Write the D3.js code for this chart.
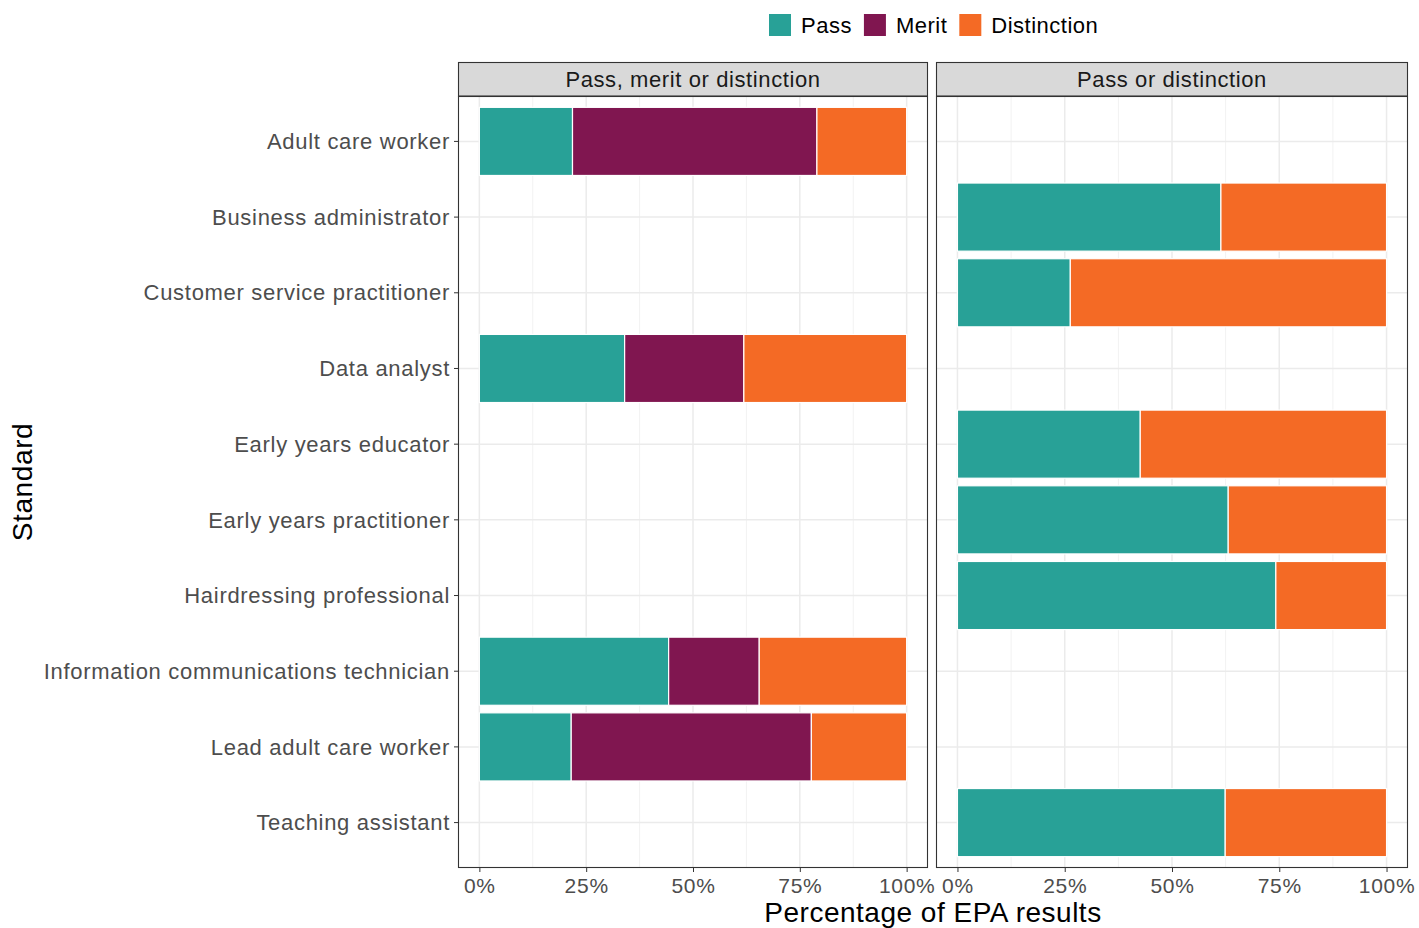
<!DOCTYPE html>
<html><head><meta charset="utf-8">
<script src="https://cdn.jsdelivr.net/npm/d3@7"></script>
<style>body{margin:0;background:#fff;} svg{display:block;font-family:"Liberation Sans",Arial,sans-serif;}</style>
</head><body>
<svg id="c" width="1419" height="928"></svg>
<script>
const categories = ["Adult care worker","Business administrator","Customer service practitioner","Data analyst","Early years educator","Early years practitioner","Hairdressing professional","Information communications technician","Lead adult care worker","Teaching assistant"];
const panels = ["Pass, merit or distinction","Pass or distinction"];
const grades = ["Pass","Merit","Distinction"];
const colors = ["#28A197","#801650","#F46A25"];
// each row: standard, panel, pass, merit, distinction (percent)
const rowStandard = ["Adult care worker","Data analyst","Information communications technician","Lead adult care worker","Business administrator","Customer service practitioner","Early years educator","Early years practitioner","Hairdressing professional","Teaching assistant"];
const rowPanel = [0,0,0,0,1,1,1,1,1,1];
const passVals = [21.8,34.0,44.3,21.5,61.4,26.3,42.6,63.1,74.2,62.4];
const meritVals = [57.2,27.9,21.2,56.2,0,0,0,0,0,0];
const distVals = [21.0,38.1,34.5,22.3,38.6,73.7,57.4,36.9,25.8,37.6];
const xTicks = [0,25,50,75,100];

(function(){
const svg = d3.select("#c");
const yTop = 96, yBot = 868;
const panelX = [[458,928],[936,1408]];
// ggplot-like discrete expansion: 0.6 units each side, bar width 0.9
const y = d3.scalePoint().domain(categories).range([yTop,yBot]).padding(0.6);
const step = y.step();
const yc = c => y(c);
const barH = step*0.9;

panels.forEach((p,i)=>{
  const [x0,x1] = panelX[i];
  const pad = (x1-x0)/1.1*0.05;
  const x = d3.scaleLinear().domain([0,100]).range([x0+pad,x1-pad]);
  const g = svg.append("g");
  g.append("rect").attr("x",x0).attr("y",yTop).attr("width",x1-x0).attr("height",yBot-yTop).attr("fill","#fff");
  [12.5,37.5,62.5,87.5].forEach(v=>g.append("line").attr("x1",x(v)).attr("x2",x(v)).attr("y1",yTop).attr("y2",yBot).attr("stroke","#F2F2F2").attr("stroke-width",1));
  xTicks.forEach(v=>g.append("line").attr("x1",x(v)).attr("x2",x(v)).attr("y1",yTop).attr("y2",yBot).attr("stroke","#EBEBEB").attr("stroke-width",1.5));
  categories.forEach(c=>g.append("line").attr("x1",x0).attr("x2",x1).attr("y1",yc(c)).attr("y2",yc(c)).attr("stroke","#EBEBEB").attr("stroke-width",1.5));
  rowStandard.forEach((s,r)=>{
    if(rowPanel[r]!==i) return;
    const vals = [passVals[r],meritVals[r],distVals[r]];
    let cum = 0;
    vals.forEach((v,k)=>{
      if(v<=0) return;
      g.append("rect").attr("x",x(cum)).attr("width",x(cum+v)-x(cum))
        .attr("y",yc(s)-barH/2).attr("height",barH)
        .attr("fill",colors[k]).attr("stroke","#fff").attr("stroke-width",1.2);
      cum += v;
    });
  });
  g.append("rect").attr("x",x0+0.5).attr("y",yTop+0.5).attr("width",x1-x0-1).attr("height",yBot-yTop-1).attr("fill","none").attr("stroke","#333").attr("stroke-width",1.1);
  g.append("rect").attr("x",x0+0.5).attr("y",62.5).attr("width",x1-x0-1).attr("height",yTop-62-0.5).attr("fill","#D9D9D9").attr("stroke","#333").attr("stroke-width",1.1);
  g.append("text").attr("x",(x0+x1)/2).attr("y",87).attr("text-anchor","middle").attr("font-size",22).attr("letter-spacing","0.6px").attr("fill","#1A1A1A").text(p);
  const ax = g.append("g").attr("transform",`translate(0,${yBot})`)
    .call(d3.axisBottom(x).tickValues(xTicks).tickFormat(d=>d+"%").tickSize(4).tickPadding(6));
  ax.select(".domain").remove();
  ax.selectAll(".tick line").attr("stroke","#333");
  ax.selectAll(".tick text").attr("font-size",21).attr("letter-spacing","0.7px").attr("fill","#4D4D4D").attr("font-family","Liberation Sans, Arial, sans-serif");
});

const yax = svg.append("g").attr("transform",`translate(${panelX[0][0]},0)`);
categories.forEach(c=>{
  yax.append("line").attr("x1",-4).attr("x2",0).attr("y1",yc(c)).attr("y2",yc(c)).attr("stroke","#333");
  yax.append("text").attr("x",-8).attr("y",yc(c)).attr("dy","0.35em").attr("text-anchor","end").attr("font-size",22).attr("letter-spacing","0.7px").attr("fill","#4D4D4D").text(c);
});

svg.append("text").attr("x",(panelX[0][0]+panelX[1][1])/2).attr("y",922).attr("text-anchor","middle").attr("font-size",28).attr("letter-spacing","0.5px").attr("fill","#000").text("Percentage of EPA results");
svg.append("text").attr("transform",`translate(32,${(yTop+yBot)/2}) rotate(-90)`).attr("text-anchor","middle").attr("font-size",28).attr("letter-spacing","0.6px").attr("fill","#000").text("Standard");

const leg = svg.append("g");
let lx = 769;
grades.forEach((gname,k)=>{
  leg.append("rect").attr("x",lx).attr("y",14).attr("width",22).attr("height",22).attr("fill",colors[k]);
  const t = leg.append("text").attr("x",lx+32).attr("y",33).attr("font-size",22).attr("letter-spacing","0.5px").attr("fill","#000").text(gname);
  lx += 32 + t.node().getComputedTextLength() + 12;
});
})();
</script>
</body></html>
